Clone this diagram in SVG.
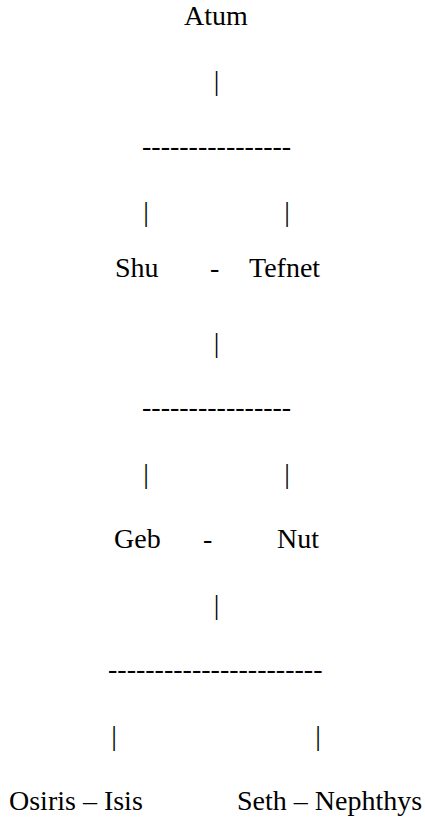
<svg xmlns="http://www.w3.org/2000/svg" width="425" height="818" viewBox="0 0 425 818">
  <rect width="425" height="818" fill="#fff"/>
  <g id="connectors">
    <text x="213.7" y="90" font-family="Liberation Serif" font-size="28">|</text>
    <text x="142" y="155" font-family="Liberation Serif" font-size="28">----------------</text>
    <text x="143.2" y="221" font-family="Liberation Serif" font-size="28">|</text>
    <text x="284.2" y="221" font-family="Liberation Serif" font-size="28">|</text>
    <text x="213.7" y="352" font-family="Liberation Serif" font-size="28">|</text>
    <text x="142" y="416" font-family="Liberation Serif" font-size="28">----------------</text>
    <text x="143.2" y="483" font-family="Liberation Serif" font-size="28">|</text>
    <text x="284.2" y="483" font-family="Liberation Serif" font-size="28">|</text>
    <text x="213.7" y="614" font-family="Liberation Serif" font-size="28">|</text>
    <text x="108" y="678" font-family="Liberation Serif" font-size="28">-----------------------</text>
    <text x="111.2" y="745" font-family="Liberation Serif" font-size="28">|</text>
    <text x="315.2" y="745" font-family="Liberation Serif" font-size="28">|</text>
  </g>
  <g id="atum"><text x="184" y="25" font-family="Liberation Serif" font-size="28">Atum</text></g>
  <g id="shu-tefnet">
    <text x="115" y="277" font-family="Liberation Serif" font-size="28">Shu</text>
    <text x="210" y="277" font-family="Liberation Serif" font-size="28">-</text>
    <text x="249" y="277" font-family="Liberation Serif" font-size="28">Tefnet</text>
  </g>
  <g id="geb-nut">
    <text x="114" y="548" font-family="Liberation Serif" font-size="28">Geb</text>
    <text x="203" y="548" font-family="Liberation Serif" font-size="28">-</text>
    <text x="277" y="548" font-family="Liberation Serif" font-size="28">Nut</text>
  </g>
  <g id="osiris-isis"><text x="9" y="810" font-family="Liberation Serif" font-size="28">Osiris – Isis</text></g>
  <g id="seth-nephthys"><text x="237" y="810" font-family="Liberation Serif" font-size="28">Seth – Nephthys</text></g>
</svg>
